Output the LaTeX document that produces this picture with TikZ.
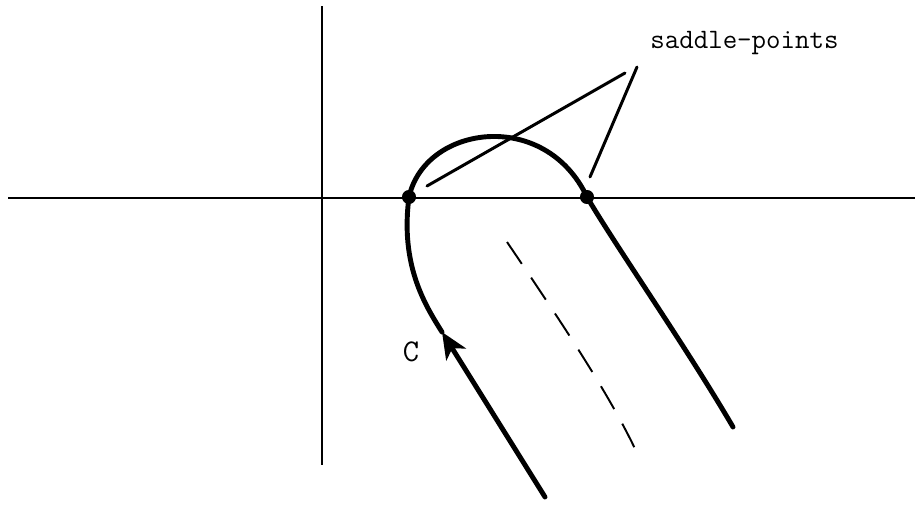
\documentclass[tikz,border=0pt]{standalone}
\usepackage{fontspec}
\usetikzlibrary{arrows.meta}
\definecolor{fg}{HTML}{000000}
\definecolor{stroke}{HTML}{000000}
\definecolor{bg}{HTML}{FFFFFF}

\begin{document}
\begin{tikzpicture}[
  x=0.02cm, y=-0.02cm,
  font=\fontsize{16}{18}\selectfont\ttfamily,
  axis/.style={draw=stroke, line width=0.85pt},
  contour/.style={draw=stroke, line width=2.8pt, line cap=round, line join=round},
  leader/.style={draw=stroke, line width=1.7pt, line cap=round},
  shifted/.style={draw=stroke, line width=1.1pt, dash pattern=on 15pt off 9.5pt},
  saddle/.style={circle, fill=fg, inner sep=0pt, minimum size=8pt},
  lbl/.style={text=fg, inner sep=0pt},
]
\useasboundingbox[fill=bg] (0,0) rectangle (915,504);
% axes
\draw[axis] (8,198) -- (915,198);
\draw[axis] (322,6) -- (322,465);

% contour points
\coordinate (cstart) at (545,497);
\coordinate (carrow) at (442,332);
\coordinate (cend) at (733,427);
\node[saddle] (s1) at (409,197) {};
\node[saddle] (s2) at (587,197) {};

% contour C
\draw[contour, -{Stealth[length=15pt, width=13pt, inset=4pt]}] (cstart) -- (carrow);
\draw[contour] (carrow) .. controls (425,305) and (400,265) .. (s1.center)
  .. controls (425,125) and (545,108) .. (s2.center)
  .. controls (615,245) and (685,345) .. (cend);
\node[lbl, font=\fontsize{18}{20}\selectfont\ttfamily] (clbl) at (411,352) {C};

% dashed path
\coordinate (dtop) at (507,242);
\coordinate (dbot) at (637,453);
\draw[shifted] (dtop) .. controls (560,320) and (610,395) .. (dbot);

% saddle-point label
\node[lbl, anchor=base west] (sp) at (650,48) {saddle-points};
\coordinate (lead1) at (625,73);
\coordinate (lead2) at (637,67);
\coordinate (tip1) at (427,186);
\coordinate (tip2) at (590,177);
\draw[leader] (lead1) -- (tip1);
\draw[leader] (lead2) -- (tip2);
\end{tikzpicture}
\end{document}
